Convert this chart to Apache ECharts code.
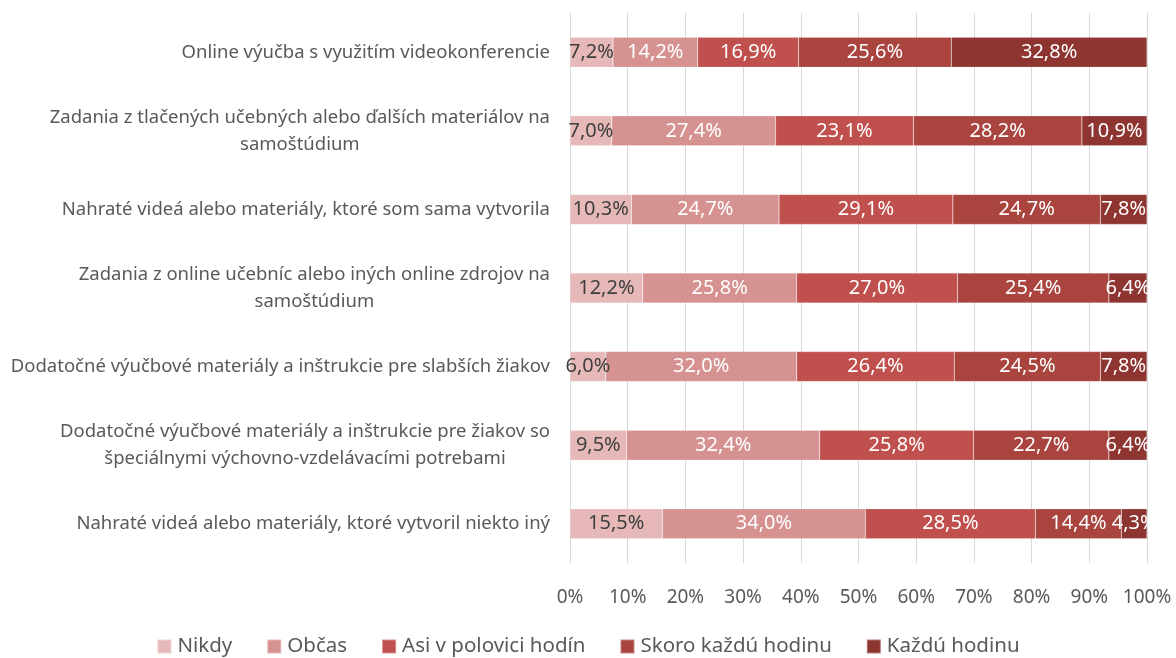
<!DOCTYPE html>
<html lang="sk">
<head>
    <meta charset="UTF-8">
    <title>Formy výučby</title>
    <script src="https://cdn.jsdelivr.net/npm/echarts@6/dist/echarts.min.js"></script>
    <style>
        html, body { margin: 0; padding: 0; background: #fff; }
        #chart { width: 1176px; height: 658px; }
    </style>
</head>
<body>
<div id="chart"></div>
<script type="text/javascript">
    // kategórie zhora nadol
    var categories = [
        'Online výučba s využitím videokonferencie',
        'Zadania z tlačených učebných alebo ďalších materiálov na\nsamoštúdium',
        'Nahraté videá alebo materiály, ktoré som sama vytvorila',
        'Zadania z online učebníc alebo iných online zdrojov na\nsamoštúdium',
        'Dodatočné výučbové materiály a inštrukcie pre slabších žiakov',
        'Dodatočné výučbové materiály a inštrukcie pre žiakov so\nšpeciálnymi výchovno-vzdelávacími potrebami',
        'Nahraté videá alebo materiály, ktoré vytvoril niekto iný'
    ];
    var seriesNames = ['Nikdy', 'Občas', 'Asi v polovici hodín', 'Skoro každú hodinu', 'Každú hodinu'];
    var nikdy  = [7.2, 7.0, 10.3, 12.2, 6.0, 9.5, 15.5];
    var obcas  = [14.2, 27.4, 24.7, 25.8, 32.0, 32.4, 34.0];
    var polovica = [16.9, 23.1, 29.1, 27.0, 26.4, 25.8, 28.5];
    var skoro  = [25.6, 28.2, 24.7, 25.4, 24.5, 22.7, 14.4];
    var kazdu  = [32.8, 10.9, 7.8, 6.4, 7.8, 6.4, 4.3];
    var xTicks = [0, 10, 20, 30, 40, 50, 60, 70, 80, 90, 100];

    var colors = ['#e6b9b8', '#d59291', '#c0504d', '#a9443f', '#8e3532'];
    var raw = [nikdy, obcas, polovica, skoro, kazdu];

    // 100 % skladaný graf: podiel v riadku
    var sums = categories.map(function (c, i) {
        var s = 0;
        raw.forEach(function (arr) { s += arr[i]; });
        return s;
    });

    var series = raw.map(function (arr, k) {
        return {
            name: seriesNames[k],
            type: 'bar',
            stack: 'spolu',
            barWidth: 30,
            itemStyle: { color: colors[k], borderColor: 'rgba(255,255,255,0.35)', borderWidth: 0.5 },
            label: {
                show: true,
                position: 'inside',
                color: k === 0 ? '#404040' : '#ffffff',
                fontSize: 20,
                fontFamily: 'Noto Sans',
                formatter: function (p) {
                    return arr[p.dataIndex].toFixed(1).replace('.', ',') + '%';
                }
            },
            data: arr.map(function (v, i) { return v / sums[i] * 100; })
        };
    });

    var myChart = echarts.init(document.getElementById('chart'));
    var option = {
        animation: false,
        color: colors,
        textStyle: { fontFamily: 'Noto Sans' },
        grid: { left: 570, right: 29, top: 13, bottom: 95 },
        legend: {
            bottom: -4,
            left: 'center',
            itemWidth: 14,
            itemHeight: 14,
            itemGap: 34,
            icon: 'rect',
            textStyle: { color: '#595959', fontSize: 20.5, padding: [0, 0, 0, 1] },
            data: seriesNames
        },
        xAxis: {
            type: 'value',
            min: 0,
            max: 100,
            interval: 10,
            axisLine: { show: false },
            axisTick: { show: false },
            splitLine: { lineStyle: { color: '#d9d9d9', width: 1 } },
            axisLabel: {
                color: '#595959',
                fontSize: 19,
                margin: 25,
                formatter: function (v) { return xTicks.indexOf(v) >= 0 ? v + '%' : ''; }
            }
        },
        yAxis: {
            type: 'category',
            inverse: true,
            data: categories,
            axisLine: { show: false },
            axisTick: { show: false },
            axisLabel: {
                margin: 20,
                align: 'right',
                // dvojriadkové popisy sú centrované v bloku
                formatter: function (v) {
                    return v.split('\n').map(function (s) { return '{c|' + s + '}'; }).join('\n');
                },
                rich: {
                    c: { color: '#595959', fontSize: 18.5, lineHeight: 27, align: 'center' }
                }
            }
        },
        series: series
    };
    myChart.setOption(option);
</script>
</body>
</html>
